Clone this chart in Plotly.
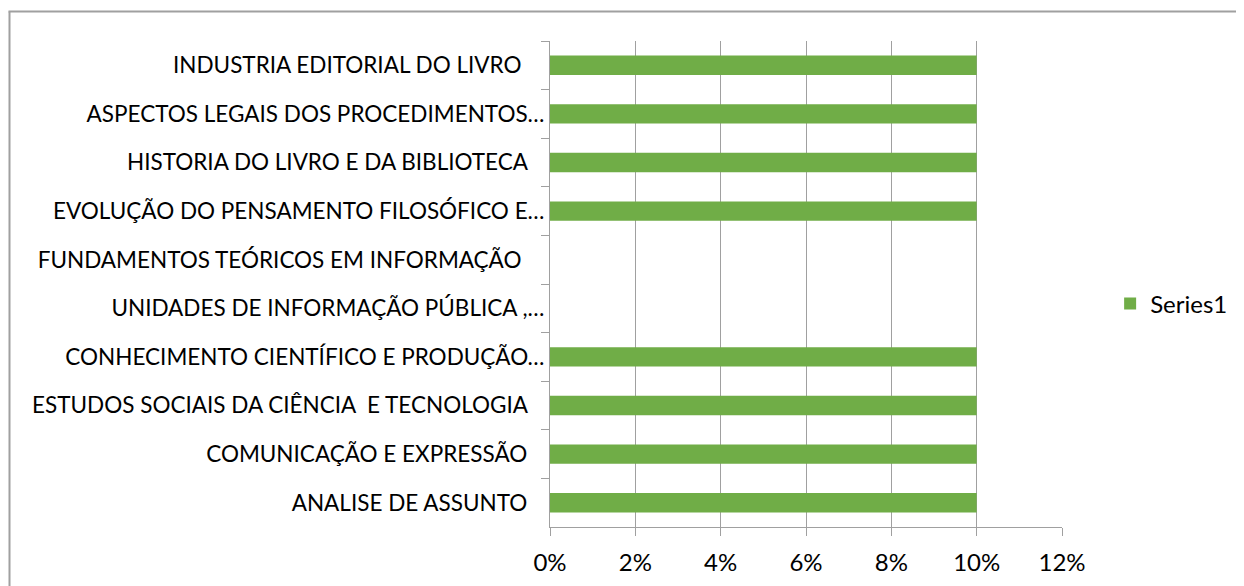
import plotly.graph_objects as go

NB = "\u00a0"
categories = [
    "INDUSTRIA EDITORIAL DO LIVRO" + NB * 4,
    "ASPECTOS LEGAIS DOS PROCEDIMENTOS…",
    "HISTORIA DO LIVRO E DA BIBLIOTECA" + NB * 3,
    "EVOLUÇÃO DO PENSAMENTO FILOSÓFICO E…",
    "FUNDAMENTOS TEÓRICOS EM INFORMAÇÃO" + NB * 4,
    "UNIDADES DE INFORMAÇÃO PÚBLICA ,…",
    "CONHECIMENTO CIENTÍFICO E PRODUÇÃO…",
    "ESTUDOS SOCIAIS DA CIÊNCIA  E TECNOLOGIA" + NB * 3,
    "COMUNICAÇÃO E EXPRESSÃO" + NB * 3,
    "ANALISE DE ASSUNTO" + NB * 3,
]
values = [0.10, 0.10, 0.10, 0.10, None, None, 0.10, 0.10, 0.10, 0.10]
series_name = "Series1"
x_ticks = [0, 0.02, 0.04, 0.06, 0.08, 0.10, 0.12]

FONT = "Lato"
PW, PH = 512, 486   # plot area size in px
fig = go.Figure()
fig.add_trace(go.Bar(
    y=categories, x=values, orientation="h", name=series_name,
    marker=dict(color="#70AD47", line=dict(width=0)),
    showlegend=True,
))

fig.update_layout(
    width=1244, height=586,
    margin=dict(l=542, r=190, t=33, b=67),
    paper_bgcolor="white", plot_bgcolor="white",
    font=dict(family=FONT, size=22.5, color="#000000"),
    bargap=0.6,
    showlegend=True,
    legend=dict(x=1.094, y=0.459, xanchor="left", yanchor="middle",
                font=dict(size=24), bgcolor="rgba(0,0,0,0)",
                itemwidth=30),
    xaxis=dict(range=[0, 0.12], tickvals=x_ticks, tickformat=".0%",
               tickfont=dict(size=24), ticklabelstandoff=6,
               showgrid=True, gridcolor="#A0A0A0", gridwidth=1,
               showline=True, linecolor="#A0A0A0", linewidth=1,
               ticks="outside", ticklen=8, tickcolor="#A0A0A0",
               zeroline=False, fixedrange=True),
    yaxis=dict(type="category", autorange="reversed",
               tickfont=dict(size=22.5),
               showline=True, linecolor="#A0A0A0", linewidth=1,
               ticks="outside", ticklen=8, tickcolor="#A0A0A0",
               tickson="boundaries", showgrid=False, fixedrange=True),
    shapes=[
        dict(type="line", xref="paper", yref="paper", x0=-546.5/PW, x1=-546.5/PW,
             y0=-70/PH, y1=(PH+45)/PH, line=dict(color="black", width=2)),
        dict(type="line", xref="paper", yref="paper", x0=-540.5/PW, x1=-540.5/PW,
             y0=-70/PH, y1=(PH+29.5)/PH, line=dict(color="#A0A0A0", width=2)),
        dict(type="line", xref="paper", yref="paper", x0=-541.5/PW, x1=(PW+200)/PW,
             y0=(PH+29.5)/PH, y1=(PH+29.5)/PH, line=dict(color="#A0A0A0", width=2)),
    ],
)

fig.write_html("out.html")
